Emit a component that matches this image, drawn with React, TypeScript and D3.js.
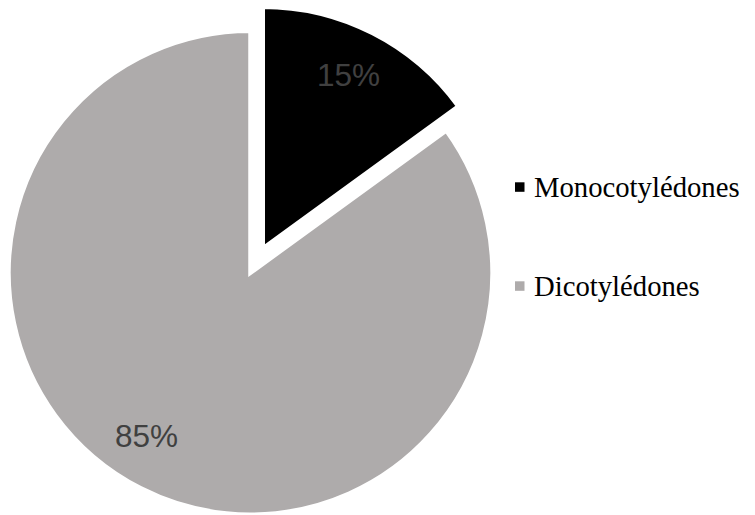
import React from "react";
import * as d3 from "d3";

const categories = ["Monocotylédones", "Dicotylédones"];
const values = [15, 85];
const labels = ["15%", "85%"];
const colors = ["#000000", "#AEABAB"];

const W = 755;
const H = 515;
const CX = 250.5;
const CY = 272.7;
const R = 242;
const EXPLODE = [27, 0];
const LABEL_R = 193.6;
const LABEL_ANGLE_NUDGE = [-0.012, 0.096];

export default function App() {
  const pie = d3
    .pie<number>()
    .sort(null)
    .value((d) => d)
    .startAngle(0)
    .endAngle(2 * Math.PI);
  const arcs = pie(values);
  const arc = d3.arc<d3.PieArcDatum<number>>().innerRadius(0).outerRadius(R);

  return (
    <svg
      width={W}
      height={H}
      style={{ position: "absolute", left: 0, top: 0, background: "#fff" }}
    >
      <g transform={`translate(${CX},${CY})`}>
        {arcs.map((a, i) => {
          const mid = (a.startAngle + a.endAngle) / 2;
          const ox = Math.sin(mid) * EXPLODE[i];
          const oy = -Math.cos(mid) * EXPLODE[i];
          const la = mid + LABEL_ANGLE_NUDGE[i];
          const lx = Math.sin(la) * LABEL_R;
          const ly = -Math.cos(la) * LABEL_R;
          return (
            <g key={categories[i]} transform={`translate(${ox},${oy})`}>
              <path
                d={arc(a) || ""}
                fill={colors[i]}
                stroke="#ffffff"
                strokeWidth={4.5}
                strokeLinejoin="miter"
              />
              <text
                x={lx}
                y={ly + 11.3}
                textAnchor="middle"
                fontFamily="'Liberation Sans', Arial, sans-serif"
                fontSize={31.5}
                fill="#404040"
              >
                {labels[i]}
              </text>
            </g>
          );
        })}
      </g>
      <g>
        {categories.map((c, i) => (
          <g key={c} transform={`translate(0,${i * 99})`}>
            <rect x={515} y={182.3} width={9.5} height={9.5} fill={colors[i]} />
            <text
              x={534}
              y={197}
              fontFamily="'Liberation Serif', 'Times New Roman', serif"
              fontSize={28.7}
              fill="#000"
            >
              {c}
            </text>
          </g>
        ))}
      </g>
    </svg>
  );
}
